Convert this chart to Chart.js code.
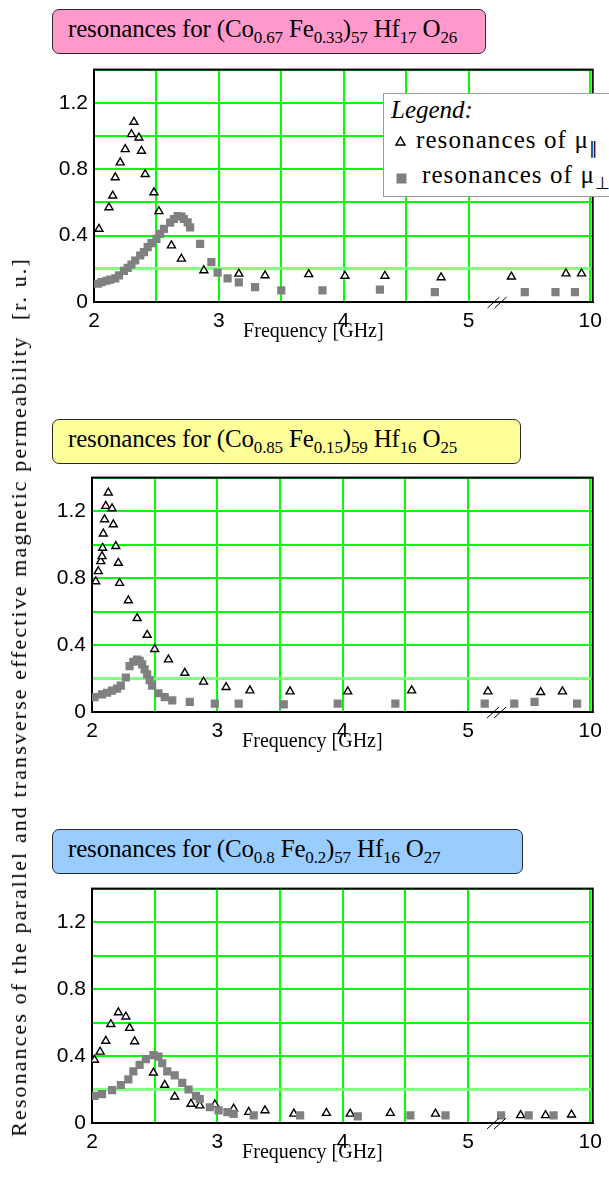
<!DOCTYPE html>
<html><head><meta charset="utf-8">
<script src="https://cdn.jsdelivr.net/npm/chart.js@4.4.0/dist/chart.umd.min.js"></script>
<style>
html,body{margin:0;padding:0;background:#fff;}
body{width:609px;height:1188px;position:relative;overflow:hidden;}
canvas{position:absolute;left:0;z-index:1;}
.tbox{position:absolute;left:52px;height:45px;border:1.5px solid #2a2a2a;border-radius:7px;box-sizing:border-box;z-index:3;}
.ttxt{position:absolute;left:15px;top:6px;white-space:nowrap;font-family:"Liberation Serif","Times New Roman",serif;font-size:25px;line-height:25px;color:#000;}
.s{font-size:17px;position:relative;top:6px;}
#legend{position:absolute;left:383px;top:93px;width:240px;height:104px;background:#fff;border:1px solid #9a9a9a;box-sizing:border-box;z-index:3;font-family:"Liberation Serif","Times New Roman",serif;font-size:25px;line-height:25px;color:#000;}
#legend .ln{position:absolute;white-space:nowrap;letter-spacing:1.1px;}
#legend svg{position:absolute;}
#ytitle{position:absolute;left:19px;top:697px;transform:translate(-50%,-50%) rotate(-90deg);white-space:pre;font-family:"Liberation Serif","Times New Roman",serif;font-size:22px;line-height:22px;color:#000;z-index:2;}
</style>
</head><body>
<canvas id="c1" width="609" height="291" style="top:51px"></canvas>
<canvas id="c2" width="609" height="293" style="top:459px"></canvas>
<canvas id="c3" width="609" height="293" style="top:870px"></canvas>

<div class="tbox" style="top:9px;width:434px;background:#ff99cc"><span class="ttxt" id="t1">resonances for (Co<span class="s">0.67</span> Fe<span class="s">0.33</span>)<span class="s">57</span> Hf<span class="s">17</span> O<span class="s">26</span></span></div>
<div class="tbox" style="top:419px;width:469px;background:#ffff99"><span class="ttxt" id="t2">resonances for (Co<span class="s">0.85</span> Fe<span class="s">0.15</span>)<span class="s">59</span> Hf<span class="s">16</span> O<span class="s">25</span></span></div>
<div class="tbox" style="top:829px;width:471px;background:#99ccff"><span class="ttxt" id="t3">resonances for (Co<span class="s">0.8</span> Fe<span class="s">0.2</span>)<span class="s">57</span> Hf<span class="s">16</span> O<span class="s">27</span></span></div>

<div id="legend">
  <span class="ln" style="left:7px;top:3px;font-style:italic;letter-spacing:0">Legend:</span>
  <svg style="left:11px;top:42px" width="11" height="10"><polygon points="5.5,1 10,9 1,9" fill="#fff" stroke="#000" stroke-width="1.4"/></svg>
  <span class="ln" style="left:32px;top:33px">resonances of &#956;<sub style="font-size:17px">&#8741;</sub></span>
  <svg style="left:12px;top:79px" width="11" height="11"><rect x="0.5" y="0.5" width="10" height="10" fill="#808080"/></svg>
  <span class="ln" style="left:38px;top:68px">resonances of &#956;<sub style="font-size:17px">&#8869;</sub></span>
</div>

<div id="ytitle">Resonances of the parallel and transverse effective magnetic permeability  [r. u.]</div>

<script>
// ---------- data ----------
const xTickValues = [2, 2.5, 3, 3.5, 4, 4.5, 5, 10];
const xTickLabels = ['2', '', '3', '', '4', '', '5', '10'];
const yTickValues = [0, 0.2, 0.4, 0.6, 0.8, 1.0, 1.2, 1.4];
const yTickLabels = ['0', '', '0.4', '', '0.8', '', '1.2', ''];

// panel 1: (Co0.67 Fe0.33)57 Hf17 O26
const freqPar1 = [2.04, 2.12, 2.15, 2.17, 2.21, 2.25, 2.30, 2.32, 2.36, 2.38, 2.41, 2.48, 2.52, 2.62, 2.70, 2.88, 3.16, 3.37, 3.72, 4.01, 4.33, 4.78, 6.76, 9.0, 9.64];
const muPar1   = [0.44, 0.57, 0.64, 0.75, 0.84, 0.92, 1.01, 1.085, 0.99, 0.91, 0.77, 0.66, 0.546, 0.34, 0.26, 0.19, 0.17, 0.16, 0.167, 0.157, 0.157, 0.148, 0.152, 0.171, 0.171];
const freqPerp1 = [2.03, 2.06, 2.10, 2.13, 2.17, 2.20, 2.24, 2.27, 2.30, 2.33, 2.37, 2.40, 2.43, 2.46, 2.50, 2.53, 2.56, 2.61, 2.64, 2.67, 2.70, 2.72, 2.75, 2.77, 2.85, 2.94, 2.99, 3.07, 3.16, 3.29, 3.50, 3.83, 4.29, 4.73, 7.31, 8.57, 9.37];
const muPerp1   = [0.11, 0.12, 0.128, 0.135, 0.142, 0.16, 0.187, 0.205, 0.226, 0.25, 0.28, 0.30, 0.33, 0.355, 0.38, 0.41, 0.44, 0.478, 0.50, 0.517, 0.515, 0.50, 0.48, 0.45, 0.35, 0.24, 0.177, 0.142, 0.118, 0.089, 0.07, 0.07, 0.074, 0.06, 0.06, 0.06, 0.06];

// panel 2: (Co0.85 Fe0.15)59 Hf16 O25
const freqPar2 = [2.03, 2.05, 2.07, 2.08, 2.085, 2.09, 2.10, 2.11, 2.13, 2.16, 2.17, 2.19, 2.21, 2.22, 2.29, 2.36, 2.44, 2.50, 2.61, 2.74, 2.89, 3.07, 3.26, 3.58, 4.04, 4.55, 5.81, 7.97, 8.86];
const muPar2   = [0.78, 0.84, 0.90, 0.93, 0.98, 1.065, 1.15, 1.23, 1.31, 1.216, 1.12, 0.99, 0.89, 0.77, 0.666, 0.56, 0.46, 0.375, 0.313, 0.233, 0.18, 0.148, 0.128, 0.122, 0.122, 0.128, 0.122, 0.118, 0.122];
const freqPerp2 = [2.02, 2.08, 2.12, 2.16, 2.20, 2.23, 2.27, 2.30, 2.33, 2.36, 2.38, 2.40, 2.42, 2.44, 2.46, 2.48, 2.53, 2.58, 2.64, 2.78, 2.98, 3.17, 3.53, 3.96, 4.42, 5.68, 6.89, 7.72, 9.46];
const muPerp2   = [0.089, 0.105, 0.115, 0.128, 0.14, 0.157, 0.206, 0.274, 0.30, 0.313, 0.305, 0.284, 0.255, 0.225, 0.19, 0.157, 0.112, 0.089, 0.07, 0.06, 0.05, 0.05, 0.045, 0.05, 0.05, 0.05, 0.05, 0.06, 0.05];

// panel 3: (Co0.8 Fe0.2)57 Hf16 O27
const freqPar3 = [2.02, 2.065, 2.11, 2.15, 2.21, 2.27, 2.30, 2.34, 2.49, 2.58, 2.66, 2.79, 2.86, 2.98, 3.13, 3.25, 3.38, 3.61, 3.87, 4.06, 4.38, 4.74, 7.15, 8.17, 9.23];
const muPar3   = [0.377, 0.425, 0.49, 0.59, 0.66, 0.635, 0.567, 0.487, 0.30, 0.227, 0.157, 0.114, 0.104, 0.11, 0.085, 0.065, 0.075, 0.055, 0.059, 0.055, 0.059, 0.055, 0.046, 0.046, 0.05];
const freqPerp3 = [2.02, 2.08, 2.16, 2.23, 2.29, 2.33, 2.38, 2.43, 2.49, 2.53, 2.56, 2.60, 2.66, 2.72, 2.77, 2.83, 2.86, 2.94, 3.01, 3.08, 3.13, 3.29, 3.66, 4.12, 4.54, 4.82, 6.35, 7.48, 8.5];
const muPerp3   = [0.162, 0.172, 0.196, 0.227, 0.26, 0.308, 0.347, 0.382, 0.406, 0.396, 0.357, 0.308, 0.285, 0.24, 0.2, 0.162, 0.143, 0.094, 0.075, 0.065, 0.055, 0.046, 0.046, 0.04, 0.046, 0.046, 0.046, 0.046, 0.046];

const xTitle = 'Frequency [GHz]';

// ---------- broken (5 -> 10 compressed) x scale ----------
const BREAK_AT = 5, BREAK_FACTOR = 0.195;
class BrokenLinearScale extends Chart.LinearScale {
  static id = 'brokenLinear';
  static defaults = Chart.LinearScale.defaults;
  _tr(v) { return v <= BREAK_AT ? v : BREAK_AT + (v - BREAK_AT) * BREAK_FACTOR; }
  _itr(t) { return t <= BREAK_AT ? t : BREAK_AT + (t - BREAK_AT) / BREAK_FACTOR; }
  getPixelForValue(v) {
    const lo = this._tr(this.min), hi = this._tr(this.max);
    return this.getPixelForDecimal((this._tr(v) - lo) / (hi - lo));
  }
  getValueForPixel(p) {
    const lo = this._tr(this.min), hi = this._tr(this.max);
    return this._itr(lo + this.getDecimalForPixel(p) * (hi - lo));
  }
}
Chart.register(BrokenLinearScale);

const framePlugin = {
  id: 'frameAndBreak',
  beforeDatasetsDraw(chart) {
    const {ctx, chartArea: a} = chart;
    ctx.save();
    ctx.strokeStyle = '#000'; ctx.lineWidth = 2;
    ctx.strokeRect(a.left, a.top, a.right - a.left, a.bottom - a.top);
    ctx.restore();
  },
  afterDraw(chart) {
    const {ctx, chartArea: a, scales: {x}} = chart;
    const x5 = x.getPixelForValue(BREAK_AT);
    ctx.save();
    ctx.strokeStyle = '#000'; ctx.lineWidth = 1;
    for (let k = 0; k < 2; k++) {
      ctx.beginPath();
      ctx.moveTo(x5 + 19 + 7 * k, a.bottom + 6);
      ctx.lineTo(x5 + 31 + 7 * k, a.bottom - 5);
      ctx.stroke();
    }
    ctx.font = '20px "Liberation Serif", "Times New Roman", serif';
    ctx.fillStyle = '#000';
    ctx.textAlign = 'center';
    ctx.textBaseline = 'middle';
    ctx.fillText(xTitle, (a.left + a.right) / 2 - 30, a.bottom + 30);
    ctx.restore();
  }
};

function pts(f, v) { return f.map((x, i) => ({x: x, y: v[i]})); }

function makeChart(id, L, parF, parV, perpF, perpV) {
  const canvas = document.getElementById(id);
  return new Chart(canvas, {
    type: 'scatter',
    data: {
      datasets: [
        {label: 'resonances of \u03bc\u2225', data: pts(parF, parV), order: 2,
         pointStyle: 'triangle', pointRadius: 4.6, pointHoverRadius: 4.6,
         backgroundColor: '#ffffff', borderColor: '#000000', borderWidth: 1.4},
        {label: 'resonances of \u03bc\u22a5', data: pts(perpF, perpV), order: 1,
         pointStyle: 'rect', pointRadius: 5.8, pointHoverRadius: 5.8,
         backgroundColor: '#808080', borderColor: '#808080', borderWidth: 0}
      ]
    },
    options: {
      responsive: false, animation: false, events: [],
      layout: {padding: {top: 12, left: 0, right: 609 - L.right, bottom: 0}},
      plugins: {legend: {display: false}, tooltip: {enabled: false}, title: {display: false}},
      scales: {
        x: {
          type: 'brokenLinear', min: 2, max: 10.1,
          afterBuildTicks: s => { s.ticks = xTickValues.map(v => ({value: v})); },
          afterFit: s => { s.height = 40; },
          ticks: {autoSkip: false, maxRotation: 0, padding: 7, color: '#000',
                  font: {family: '"Liberation Sans", Arial, sans-serif', size: 21},
                  callback: (v, i) => xTickLabels[i]},
          grid: {color: '#00ff00', lineWidth: 2, drawTicks: false},
          border: {display: true, color: '#000', width: 2}
        },
        y: {
          type: 'linear', min: 0, max: 1.4,
          afterBuildTicks: s => { s.ticks = yTickValues.map(v => ({value: v})); },
          afterFit: s => { s.width = L.left; },
          ticks: {autoSkip: false, padding: 6, color: '#000',
                  font: {family: '"Liberation Sans", Arial, sans-serif', size: 21},
                  callback: (v, i) => yTickLabels[i]},
          grid: {drawTicks: false,
                 color: c => (c.tick && Math.abs(c.tick.value - 0.2) < 1e-9) ? '#80ff80' : '#00ff00',
                 lineWidth: c => (c.tick && Math.abs(c.tick.value - 0.2) < 1e-9) ? 3 : 2},
          border: {display: true, color: '#000', width: 2}
        }
      }
    },
    plugins: [framePlugin]
  });
}

makeChart('c1', {left: 94, right: 607}, freqPar1, muPar1, freqPerp1, muPerp1);
makeChart('c2', {left: 92, right: 606}, freqPar2, muPar2, freqPerp2, muPerp2);
makeChart('c3', {left: 92, right: 606}, freqPar3, muPar3, freqPerp3, muPerp3);

// fit text widths to the reference
function fitSpacing(el, target) {
  el.style.letterSpacing = '0px';
  const n = el.textContent.length;
  const w = el.getBoundingClientRect().width;
  return (target - w) / n;
}
const t1 = document.getElementById('t1');
const ls = fitSpacing(t1, 389);
['t1', 't2', 't3'].forEach(id => { document.getElementById(id).style.letterSpacing = ls + 'px'; });
const yt = document.getElementById('ytitle');
yt.style.letterSpacing = '0px';
const yw = yt.offsetWidth;
yt.style.letterSpacing = ((880 - yw) / yt.textContent.length) + 'px';
</script>
</body></html>
